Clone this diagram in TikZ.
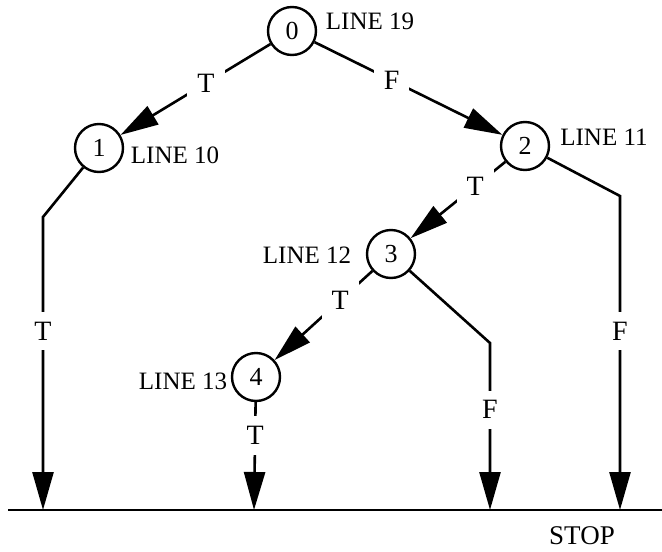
\documentclass[tikz,border=0pt]{standalone}
\usepackage{fontspec}
\setmainfont{Liberation Serif}
\usetikzlibrary{arrows.meta}
\tikzset{
  stmt/.style={draw,circle,line width=2.4pt,minimum size=48pt,inner sep=0pt,font=\fontsize{26}{26}\selectfont},
  linelbl/.style={font=\fontsize{25}{25}\selectfont,inner sep=1pt},
  tf/.style={fill=white,inner sep=10pt,font=\fontsize{28}{28}\selectfont},
  seg/.style={line width=2.6pt},
  arr/.style={seg,-{Triangle[length=38pt,width=21pt]}}
}

\begin{document}
\begin{tikzpicture}[x=1pt,y=-1pt]
\useasboundingbox (0,0) rectangle (662,552);

\node[stmt] (n0) at (292,31) {0};
\node[stmt] (n1) at (99,148) {1};
\node[stmt] (n2) at (525,146) {2};
\node[stmt] (n3) at (391,254) {3};
\node[stmt] (n4) at (256,377) {4};

\node[linelbl] (l19) at (370,21) {LINE 19};
\node[linelbl] (l10) at (175,155) {LINE 10};
\node[linelbl] (l11) at (604,137) {LINE 11};
\node[linelbl] (l12) at (307,255) {LINE 12};
\node[linelbl] (l13) at (183,381) {LINE 13};

\coordinate (k1) at (43,217);
\coordinate (k2) at (620,196);
\coordinate (k3) at (490,343);
\coordinate (e1) at (43,510);
\coordinate (e2) at (620,510);
\coordinate (e3) at (490,510);
\coordinate (e4) at (254,510);
\coordinate (bl) at (8,510);
\coordinate (br) at (662,510);

\draw[arr] (n0) -- node[tf,pos=.43] {T} (n1);
\draw[arr] (n0) -- node[tf,pos=.41] {F} (n2);
\draw[arr] (n2) -- node[tf,pos=.32] {T} (n3);
\draw[arr] (n3) -- node[tf,pos=.33] {T} (n4);
\draw[arr] (n4) -- node[tf,pos=.31] {T} (e4);
\draw[arr] (n1) -- (k1) -- node[tf,pos=.39] {T} (e1);
\draw[arr] (n2) -- (k2) -- node[tf,pos=.43] {F} (e2);
\draw[arr] (n3) -- (k3) -- node[tf,pos=.40] {F} (e3);

\draw[seg] (bl) -- (br);
\node[font=\fontsize{27}{27}\selectfont] (stop) at (582,536) {STOP};
\end{tikzpicture}
\end{document}
